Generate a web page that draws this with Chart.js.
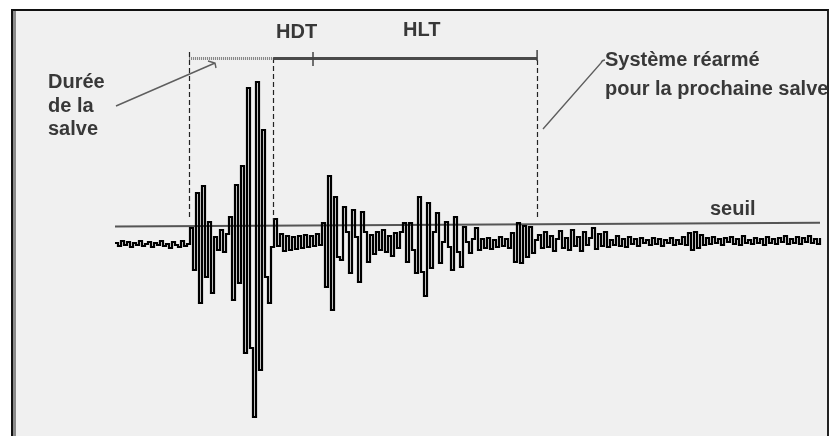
<!DOCTYPE html>
<html lang="fr">
<head>
<meta charset="utf-8">
<title>Salve d'émission acoustique</title>
<script src="https://cdn.jsdelivr.net/npm/chart.js@4.4.1/dist/chart.umd.min.js"></script>
<style>
  html, body { margin: 0; padding: 0; background: #fff; }
  body { width: 829px; height: 436px; position: relative; overflow: hidden; }
  .cadre {
    position: absolute; left: 11px; top: 9px; right: 0; bottom: -4px;
    background: #f0f0f0;
    border-top: 2px solid #111; border-left: 2px solid #111; border-right: 2px solid #222;
    box-shadow: inset 3px 0 0 #8a8a8a;
  }
  canvas { position: absolute; left: 0; top: 0; }
</style>
</head>
<body>
<div class="cadre"></div>
<canvas id="salveChart" width="829" height="436"></canvas>
<script>
// Amplitude du signal (un échantillon par pas de temps)
const signal = [
  -1, -4, 1, -3, 0, -5, -1, -3, 1, -4, -2, 0, -5, -1, -3, 1, -4, -2, -6, 0, -3, -5, 1, -4, -2,
  14, -28, 49, -61, 56, -35, 20, -51, 5, -8, 12, -10, 8, 25, -58, 57, -41, 76, -111, 154,
  -106, -175, 160, -128, 112, -35, -61, -5, 23,
  -4, 8, -9, 6, -8, 5, -7, 6, -6, 7, -5, 6, -4, 8, -3,
  19, -45, 66, -68, 45, -15, -18, 35, 10, -31, 32, 5, -40, 30, 10, -20, 7, -12, 10, -8,
  12, -10, 6, -14, 9, -6,
  10, 19, -20, 19, -8, -31, 45, -30, -54, 39, -26, 10, 29, -21, 0, 20, -5, -28, 25, -10,
  -25, 15, 0, -11, 3, 14, -8, 3, -6, 4, -7, 2, -5, 5, -4, 3, -6, 9, -20, 19,
  -21, 16, -15, 15, -11, 2, 7, -6,
  10, -5, 6, -9, 3, 11, -6, 4, -8, 12, -4, 5, -9, 10, -3, 4, 14, -7, 8, -4,
  10, -5, 2, -3, 6, -4, 3, -5, 5, -2, 3, -4, 4, -1, 2, -3, 4, -2, 3, -4,
  2, -1, 4, -3, 2, -2, 5, -3, 9, -8, 10, -6, 7, -3, 4, -2, 5, -1, 3, -3,
  4, 0, 5, -2, 3, -3, 6, -1, 2, -2, 4, -1, 3, -3, 5, -1, 3, -2, 4, 0,
  6, -2, 3, -1, 5, -2, 4, 0, 6, -1, 3, -2, 4
];

// Niveau du seuil au début et à la fin de l'enregistrement
const seuil = [15.5, 19.3];

// Repères temporels : début de salve, fin HDT, repère HLT, système réarmé
const reperes = [24.7, 52.7, 66, 140.7];

// Textes
const etiquettesHaut = ["HDT", "HLT"];
const texteDuree = ["Durée", "de la", "salve"];
const texteRearme = ["Système réarmé", "pour la prochaine salve"];
const texteSeuil = "seuil";

const POLICE = "bold 20px 'Liberation Sans', Arial, sans-serif";
const COULEUR_TEXTE = "#383838";

/**
 * Dessine les repères, la barre HDT/HLT, les flèches et les textes
 */
const annotationsSalve = {
  id: "annotationsSalve",
  afterDraw(chart) {
    const { ctx, scales: { x, y } } = chart;
    const px = reperes.map(t => x.getPixelForValue(t));
    const dernier = signal.length - 1;
    const ySeuil = t => y.getPixelForValue(seuil[0] + (seuil[1] - seuil[0]) * t / dernier);
    const yBarre = 58.5;

    ctx.save();

    // Lignes verticales pointillées
    ctx.strokeStyle = "#222";
    ctx.lineWidth = 1.2;
    ctx.setLineDash([5, 3]);
    const debuts = [52, 58, 60];
    [0, 1, 3].forEach((r, k) => {
      const xp = Math.round(px[r]) + 0.5;
      ctx.beginPath();
      ctx.moveTo(xp, debuts[k]);
      ctx.lineTo(xp, ySeuil(reperes[r]) - 6);
      ctx.stroke();
    });

    // Barre supérieure : durée de la salve (hachurée) puis HDT + HLT
    ctx.setLineDash([1, 1]);
    ctx.strokeStyle = "#7c7c7c";
    ctx.lineWidth = 3;
    ctx.beginPath();
    ctx.moveTo(px[0], yBarre);
    ctx.lineTo(px[1], yBarre);
    ctx.stroke();

    ctx.setLineDash([]);
    ctx.strokeStyle = "#4a4a4a";
    ctx.beginPath();
    ctx.moveTo(px[1], yBarre);
    ctx.lineTo(px[3], yBarre);
    ctx.stroke();

    // Petites graduations
    ctx.lineWidth = 1.5;
    ctx.strokeStyle = "#444";
    ctx.beginPath();
    ctx.moveTo(px[2], 52);
    ctx.lineTo(px[2], 66);
    ctx.moveTo(px[3], 50);
    ctx.lineTo(px[3], 61);
    ctx.stroke();

    // Flèches de renvoi
    ctx.strokeStyle = "#5e5e5e";
    ctx.lineWidth = 1.4;
    ctx.beginPath();
    ctx.moveTo(116, 106);
    ctx.lineTo(215, 63);
    ctx.moveTo(208, 61);
    ctx.lineTo(215, 63);
    ctx.lineTo(216, 68);
    ctx.moveTo(543, 129);
    ctx.lineTo(601, 63);
    ctx.quadraticCurveTo(602, 60, 605, 60);
    ctx.stroke();

    // Textes
    ctx.font = POLICE;
    ctx.fillStyle = COULEUR_TEXTE;
    ctx.textBaseline = "alphabetic";
    ctx.textAlign = "left";
    ctx.fillText(etiquettesHaut[0], 276, 38);
    ctx.fillText(etiquettesHaut[1], 403, 36);
    texteDuree.forEach((ligne, k) => ctx.fillText(ligne, 48, 88 + k * 23.5));
    ctx.fillText(texteRearme[0], 605, 66);
    ctx.fillText(texteRearme[1], 605, 95);
    ctx.fillText(texteSeuil, 710, 215);

    ctx.restore();
  }
};

// eslint-disable-next-line no-undef
new Chart(document.getElementById("salveChart"), {
  type: "line",
  data: {
    datasets: [
      {
        label: "signal",
        data: signal.map((v, i) => ({ x: i, y: v })),
        borderColor: "#000",
        borderWidth: 2.2,
        stepped: true,
        pointRadius: 0,
        clip: false,
        order: 0
      },
      {
        label: "seuil",
        data: [{ x: 0, y: seuil[0] }, { x: signal.length - 1, y: seuil[1] }],
        borderColor: "#555",
        borderWidth: 2,
        pointRadius: 0,
        order: 1
      }
    ]
  },
  options: {
    responsive: false,
    animation: false,
    events: [],
    layout: { padding: { left: 115, right: 9, top: 60, bottom: 10 } },
    scales: {
      x: { type: "linear", min: 0, max: signal.length - 1, display: false },
      y: { min: -184, max: 182, display: false }
    },
    plugins: {
      legend: { display: false },
      tooltip: { enabled: false }
    }
  },
  plugins: [annotationsSalve]
});
</script>
</body>
</html>
